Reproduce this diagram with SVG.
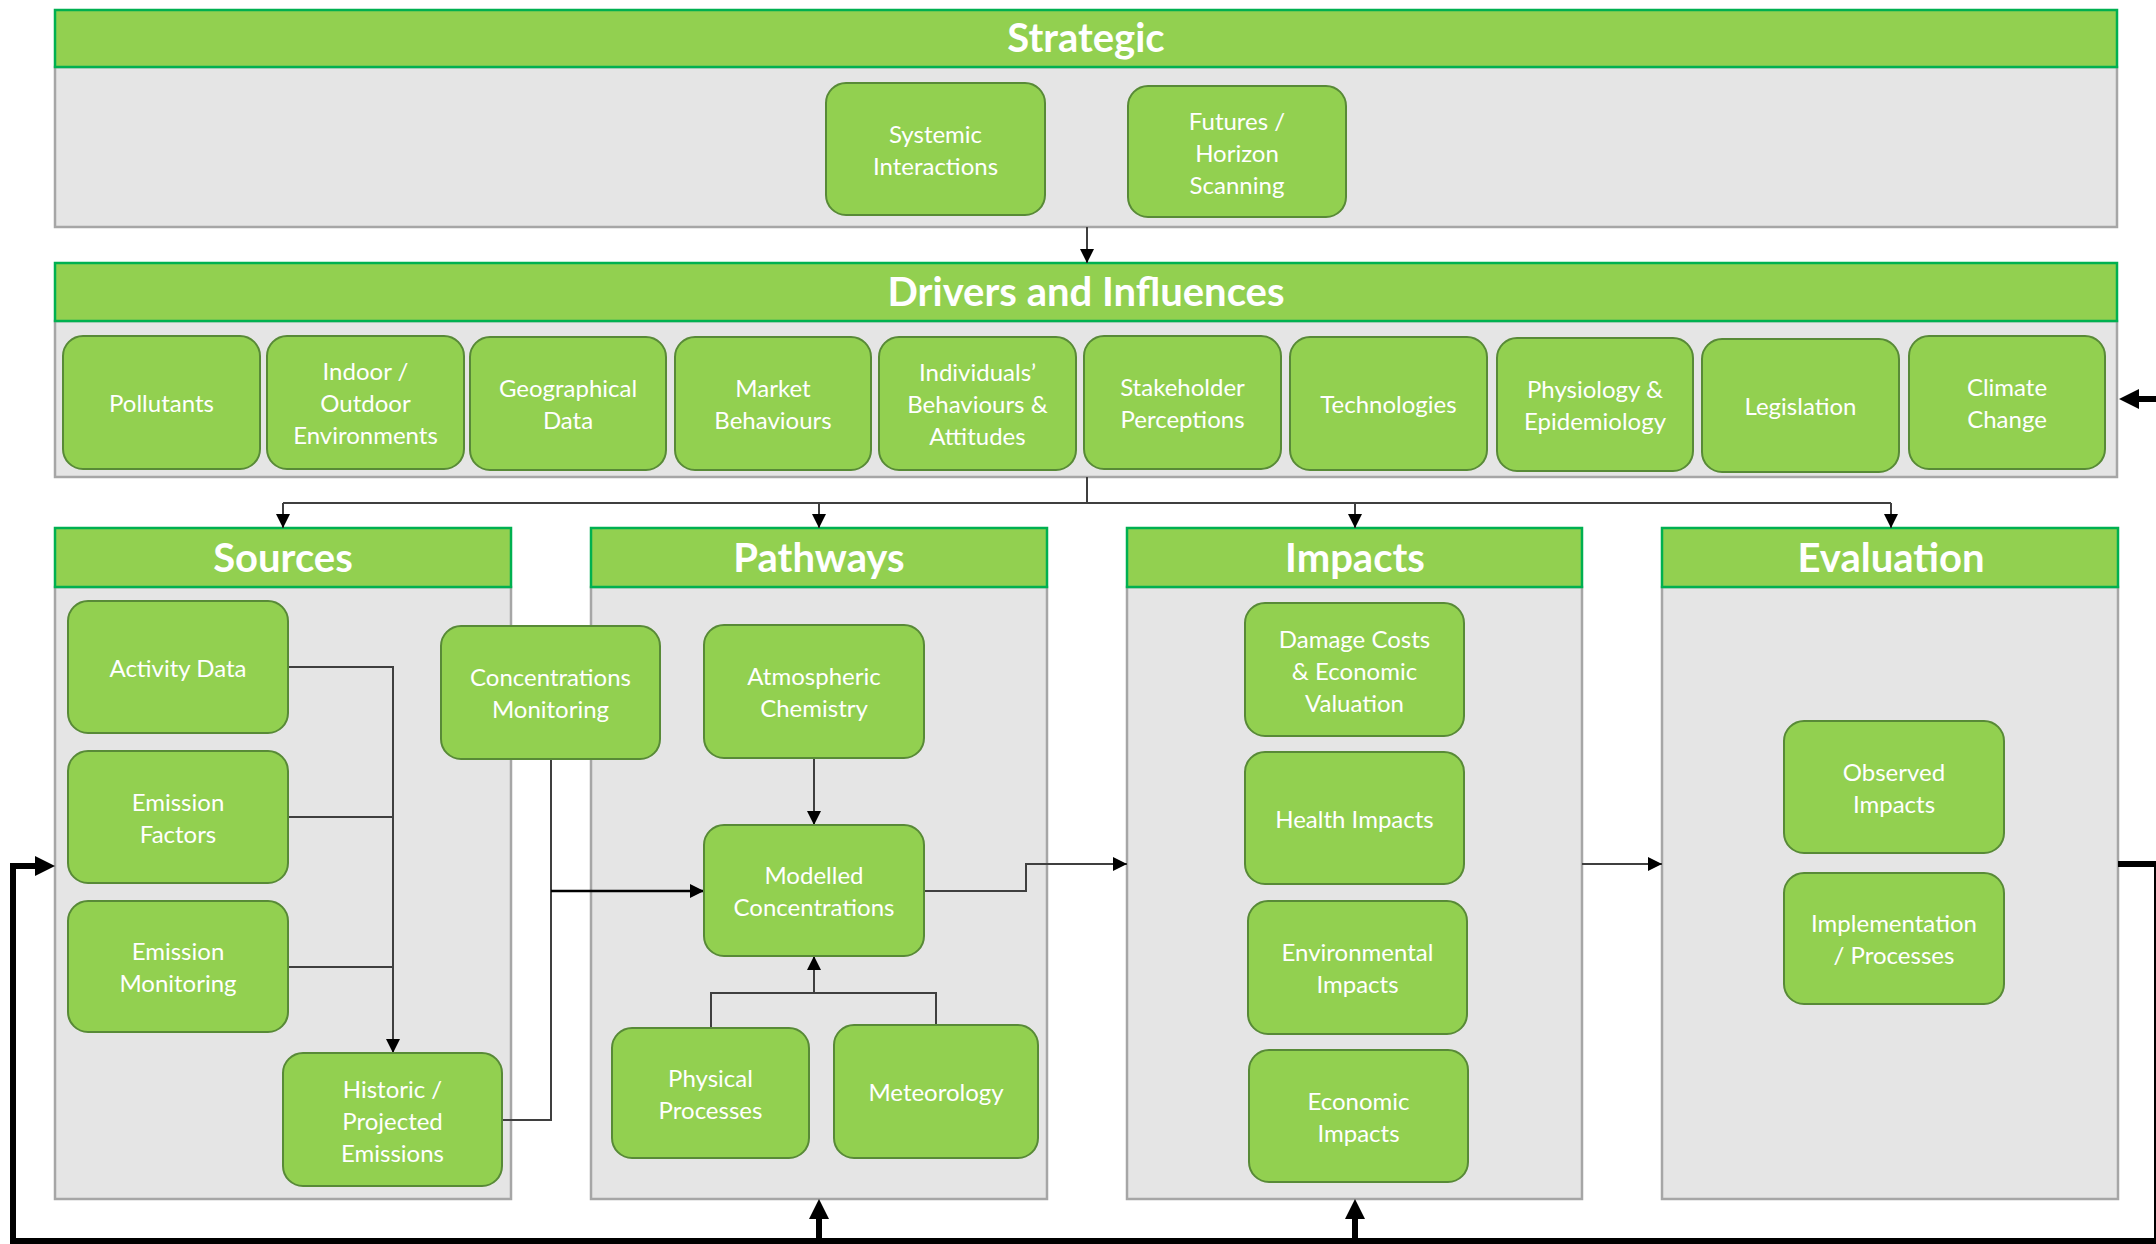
<svg xmlns="http://www.w3.org/2000/svg" width="2156" height="1244" viewBox="0 0 2156 1244">
  <style>
    .panel { fill: #E5E5E5; stroke: #A6A6A6; stroke-width: 2.5; }
    .head { fill: #92D050; stroke: #00B050; stroke-width: 2.5; }
    .title { font-family: Lato, "Liberation Sans", sans-serif; font-weight: bold; font-size: 40px; fill: #FFFFFF; text-anchor: middle; }
    .node rect { fill: #92D050; stroke: #588A37; stroke-width: 2; }
    .node text { font-family: Lato, "Liberation Sans", sans-serif; font-size: 24px; fill: #FFFFFF; text-anchor: middle; transform: translateY(1.5px); }
    .thin { fill: none; stroke: #3F3F3F; stroke-width: 2; }
    .thick { fill: none; stroke: #000000; stroke-width: 6; }
  </style>
  <defs>
    <marker id="arr" markerUnits="userSpaceOnUse" viewBox="0 0 14 14" markerWidth="14" markerHeight="14" refX="14" refY="7" orient="auto">
      <path d="M0 0 L14 7 L0 14 Z" fill="#000000"/>
    </marker>
    <marker id="arrBig" markerUnits="userSpaceOnUse" viewBox="0 0 20 20" markerWidth="20" markerHeight="20" refX="10" refY="10" orient="auto">
      <path d="M0 0 L20 10 L0 20 Z" fill="#000000"/>
    </marker>
  </defs>

  <!-- Panels -->
  <g id="panel-strategic">
    <rect class="panel" x="55" y="67" width="2062" height="160"/>
    <rect class="head" x="55" y="10" width="2062" height="57"/>
    <text class="title" x="1086" y="52">Strategic</text>
  </g>
  <g id="panel-drivers">
    <rect class="panel" x="55" y="321" width="2062" height="156"/>
    <rect class="head" x="55" y="263" width="2062" height="58"/>
    <text class="title" x="1086" y="306">Drivers and Influences</text>
  </g>
  <g id="panel-sources">
    <rect class="panel" x="55" y="587" width="456" height="612"/>
    <rect class="head" x="55" y="528" width="456" height="59"/>
    <text class="title" x="283" y="572">Sources</text>
  </g>
  <g id="panel-pathways">
    <rect class="panel" x="591" y="587" width="456" height="612"/>
    <rect class="head" x="591" y="528" width="456" height="59"/>
    <text class="title" x="819" y="572">Pathways</text>
  </g>
  <g id="panel-impacts">
    <rect class="panel" x="1127" y="587" width="455" height="612"/>
    <rect class="head" x="1127" y="528" width="455" height="59"/>
    <text class="title" x="1355" y="572">Impacts</text>
  </g>
  <g id="panel-evaluation">
    <rect class="panel" x="1662" y="587" width="456" height="612"/>
    <rect class="head" x="1662" y="528" width="456" height="59"/>
    <text class="title" x="1891" y="572">Evaluation</text>
  </g>

  <!-- Connectors -->
  <g id="connectors">
    <path class="thin" d="M1087 227 V263" marker-end="url(#arr)"/>
    <path class="thin" d="M1087 477 V503"/>
    <path class="thin" d="M283 503 H1891"/>
    <path class="thin" d="M283 503 V528" marker-end="url(#arr)"/>
    <path class="thin" d="M819 503 V528" marker-end="url(#arr)"/>
    <path class="thin" d="M1355 503 V528" marker-end="url(#arr)"/>
    <path class="thin" d="M1891 503 V528" marker-end="url(#arr)"/>

    <path class="thin" d="M288 667 H393 V1053" marker-end="url(#arr)"/>
    <path class="thin" d="M288 817 H393"/>
    <path class="thin" d="M288 967 H393"/>
    <path class="thin" d="M502 1120 H551 V759"/>
    <path class="thin" style="stroke:#000;stroke-width:2.5" d="M551 891 H704" marker-end="url(#arr)"/>

    <path class="thin" d="M814 758 V825" marker-end="url(#arr)"/>
    <path class="thin" d="M711 1028 V993 H936 V1025"/>
    <path class="thin" d="M814 993 V956" marker-end="url(#arr)"/>
    <path class="thin" d="M924 891 H1026 V864 H1127" marker-end="url(#arr)"/>
    <path class="thin" d="M1582 864 H1662" marker-end="url(#arr)"/>

    <!-- feedback loop -->
    <path class="thick" d="M2118 864 H2157 V1241 H13 V866 H45" marker-end="url(#arrBig)"/>
    <path class="thick" d="M819 1241 V1209" marker-end="url(#arrBig)"/>
    <path class="thick" d="M1355 1241 V1209" marker-end="url(#arrBig)"/>
    <path class="thick" d="M2162 399 H2129" marker-end="url(#arrBig)"/>
  </g>

  <!-- Strategic nodes -->
  <g id="systemic-interactions" class="node">
    <rect x="826" y="83" width="219" height="132" rx="20"/>
    <text x="935.5" y="141">Systemic</text>
    <text x="935.5" y="173">Interactions</text>
  </g>
  <g id="futures-horizon-scanning" class="node">
    <rect x="1128" y="86" width="218" height="131" rx="20"/>
    <text x="1237" y="128">Futures /</text>
    <text x="1237" y="160">Horizon</text>
    <text x="1237" y="192">Scanning</text>
  </g>

  <!-- Driver nodes -->
  <g id="pollutants" class="node">
    <rect x="63" y="336" width="197" height="133" rx="20"/>
    <text x="161.5" y="410">Pollutants</text>
  </g>
  <g id="indoor-outdoor" class="node">
    <rect x="267" y="336" width="197" height="133" rx="20"/>
    <text x="365.5" y="378">Indoor /</text>
    <text x="365.5" y="410">Outdoor</text>
    <text x="365.5" y="442">Environments</text>
  </g>
  <g id="geographical-data" class="node">
    <rect x="470" y="337" width="196" height="133" rx="20"/>
    <text x="568" y="395">Geographical</text>
    <text x="568" y="427">Data</text>
  </g>
  <g id="market-behaviours" class="node">
    <rect x="675" y="337" width="196" height="133" rx="20"/>
    <text x="773" y="395">Market</text>
    <text x="773" y="427">Behaviours</text>
  </g>
  <g id="individuals-behaviours" class="node">
    <rect x="879" y="337" width="197" height="133" rx="20"/>
    <text x="977.5" y="379">Individuals’</text>
    <text x="977.5" y="411">Behaviours &amp;</text>
    <text x="977.5" y="443">Attitudes</text>
  </g>
  <g id="stakeholder-perceptions" class="node">
    <rect x="1084" y="336" width="197" height="133" rx="20"/>
    <text x="1182.5" y="394">Stakeholder</text>
    <text x="1182.5" y="426">Perceptions</text>
  </g>
  <g id="technologies" class="node">
    <rect x="1290" y="337" width="197" height="133" rx="20"/>
    <text x="1388.5" y="411">Technologies</text>
  </g>
  <g id="physiology-epidemiology" class="node">
    <rect x="1497" y="338" width="196" height="133" rx="20"/>
    <text x="1595" y="396">Physiology &amp;</text>
    <text x="1595" y="428">Epidemiology</text>
  </g>
  <g id="legislation" class="node">
    <rect x="1702" y="339" width="197" height="133" rx="20"/>
    <text x="1800.5" y="413">Legislation</text>
  </g>
  <g id="climate-change" class="node">
    <rect x="1909" y="336" width="196" height="133" rx="20"/>
    <text x="2007" y="394">Climate</text>
    <text x="2007" y="426">Change</text>
  </g>

  <!-- Sources nodes -->
  <g id="activity-data" class="node">
    <rect x="68" y="601" width="220" height="132" rx="20"/>
    <text x="178" y="675">Activity Data</text>
  </g>
  <g id="emission-factors" class="node">
    <rect x="68" y="751" width="220" height="132" rx="20"/>
    <text x="178" y="809">Emission</text>
    <text x="178" y="841">Factors</text>
  </g>
  <g id="emission-monitoring" class="node">
    <rect x="68" y="901" width="220" height="131" rx="20"/>
    <text x="178" y="958">Emission</text>
    <text x="178" y="990">Monitoring</text>
  </g>
  <g id="historic-projected-emissions" class="node">
    <rect x="283" y="1053" width="219" height="133" rx="20"/>
    <text x="392.5" y="1096">Historic /</text>
    <text x="392.5" y="1128">Projected</text>
    <text x="392.5" y="1160">Emissions</text>
  </g>
  <g id="concentrations-monitoring" class="node">
    <rect x="441" y="626" width="219" height="133" rx="20"/>
    <text x="550.5" y="684">Concentrations</text>
    <text x="550.5" y="716">Monitoring</text>
  </g>

  <!-- Pathways nodes -->
  <g id="atmospheric-chemistry" class="node">
    <rect x="704" y="625" width="220" height="133" rx="20"/>
    <text x="814" y="683">Atmospheric</text>
    <text x="814" y="715">Chemistry</text>
  </g>
  <g id="modelled-concentrations" class="node">
    <rect x="704" y="825" width="220" height="131" rx="20"/>
    <text x="814" y="882">Modelled</text>
    <text x="814" y="914">Concentrations</text>
  </g>
  <g id="physical-processes" class="node">
    <rect x="612" y="1028" width="197" height="130" rx="20"/>
    <text x="710.5" y="1085">Physical</text>
    <text x="710.5" y="1117">Processes</text>
  </g>
  <g id="meteorology" class="node">
    <rect x="834" y="1025" width="204" height="133" rx="20"/>
    <text x="936" y="1099">Meteorology</text>
  </g>

  <!-- Impacts nodes -->
  <g id="damage-costs" class="node">
    <rect x="1245" y="603" width="219" height="133" rx="20"/>
    <text x="1354.5" y="646">Damage Costs</text>
    <text x="1354.5" y="678">&amp; Economic</text>
    <text x="1354.5" y="710">Valuation</text>
  </g>
  <g id="health-impacts" class="node">
    <rect x="1245" y="752" width="219" height="132" rx="20"/>
    <text x="1354.5" y="826">Health Impacts</text>
  </g>
  <g id="environmental-impacts" class="node">
    <rect x="1248" y="901" width="219" height="133" rx="20"/>
    <text x="1357.5" y="959">Environmental</text>
    <text x="1357.5" y="991">Impacts</text>
  </g>
  <g id="economic-impacts" class="node">
    <rect x="1249" y="1050" width="219" height="132" rx="20"/>
    <text x="1358.5" y="1108">Economic</text>
    <text x="1358.5" y="1140">Impacts</text>
  </g>

  <!-- Evaluation nodes -->
  <g id="observed-impacts" class="node">
    <rect x="1784" y="721" width="220" height="132" rx="20"/>
    <text x="1894" y="779">Observed</text>
    <text x="1894" y="811">Impacts</text>
  </g>
  <g id="implementation-processes" class="node">
    <rect x="1784" y="873" width="220" height="131" rx="20"/>
    <text x="1894" y="930">Implementation</text>
    <text x="1894" y="962">/ Processes</text>
  </g>
</svg>
